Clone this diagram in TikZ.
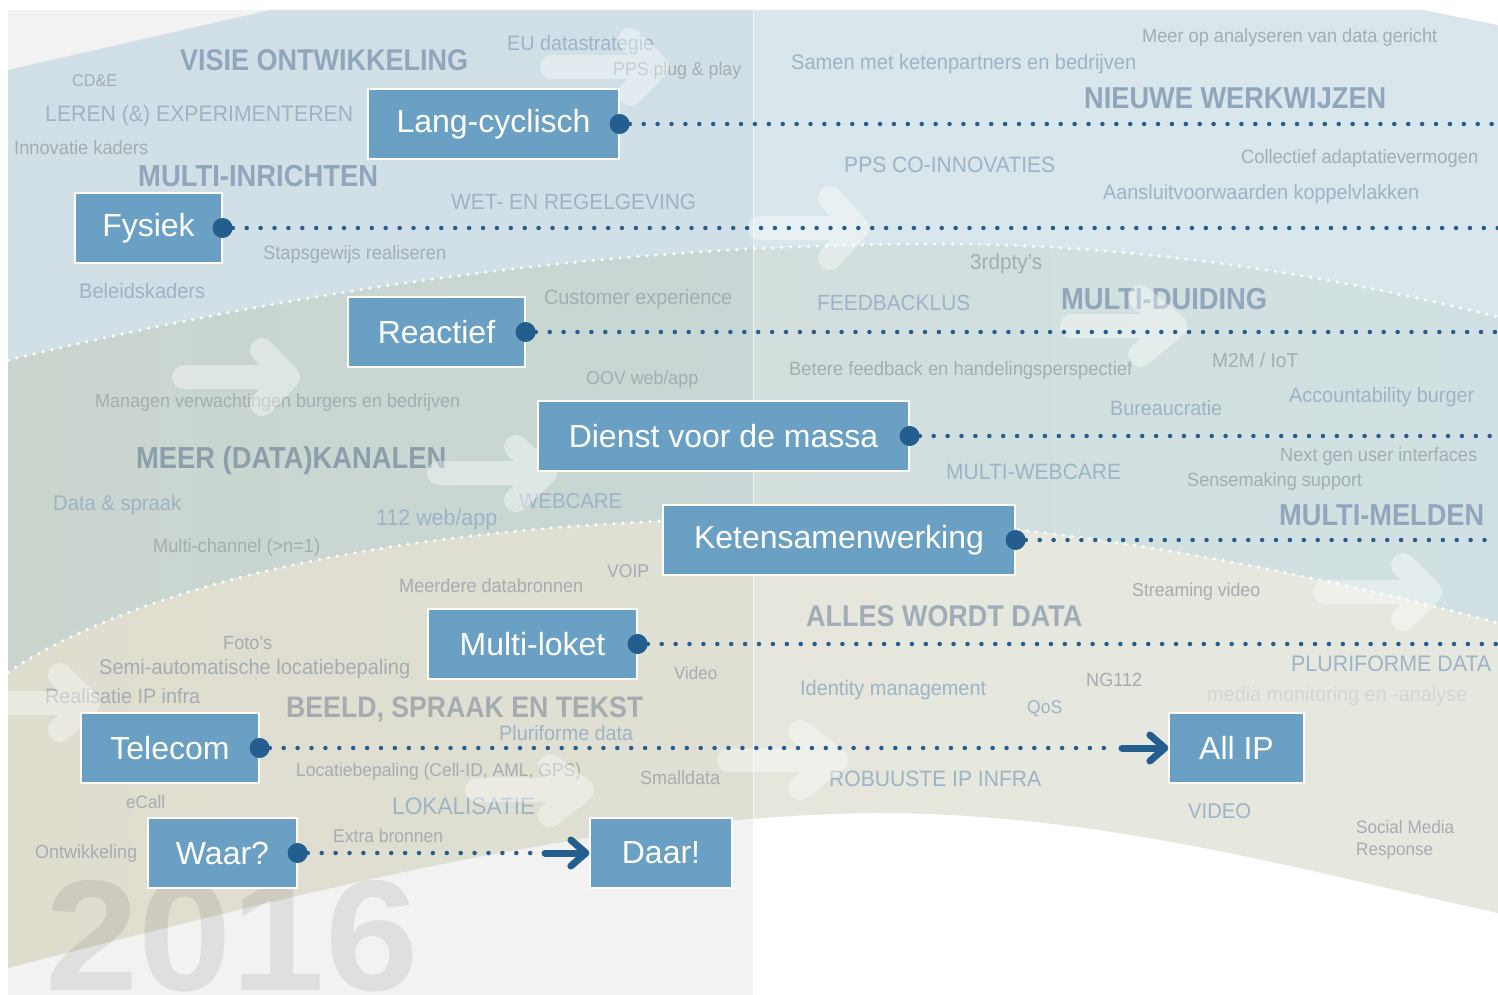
\documentclass[tikz,border=0pt]{standalone}
\usepackage{fontspec}
\usepackage{graphicx}
\setmainfont{Liberation Sans}
\newfontface\bgreg{Liberation Sans}[FakeStretch=0.95]
\newfontface\bgbold{Liberation Sans Bold}[FakeStretch=0.9]
\usetikzlibrary{arrows.meta}
\definecolor{panel}{HTML}{F2F2F2}
\definecolor{bandblue}{HTML}{D0E0E6}
\definecolor{gleft}{HTML}{CAD5CE}
\definecolor{gmid}{HTML}{C9D6D0}
\definecolor{gright}{HTML}{C6DADC}
\definecolor{beleft}{HTML}{DFDDCE}
\definecolor{beright}{HTML}{E0E3D9}
\definecolor{boxblue}{HTML}{6AA0C4}
\definecolor{dotblue}{HTML}{235E8E}
\definecolor{txgray}{HTML}{A4ADB1}
\definecolor{txblue}{HTML}{9DB4C7}
\definecolor{hdblue}{HTML}{8FA6BC}
\definecolor{hdgray}{HTML}{A6ABB0}
\definecolor{hdmid}{HTML}{8C9EAA}
\definecolor{hdlight}{HTML}{A0ACB8}
\definecolor{faint}{HTML}{D3D7D4}
\newcommand\tx[6]{\node[#1] (#2) at (#3,#4) {\resizebox{#5pt}{!}{#6}};}
\tikzset{
  bx/.style={rectangle, fill=boxblue, draw=white, line width=1.2pt, text=white,
    font=\fontsize{32}{36}\selectfont, minimum height=70pt, inner sep=0pt},
  bigdot/.style={circle, fill=dotblue, minimum size=20pt, inner sep=0pt},
  dotl/.style={dotblue, line width=4.5pt, line cap=round, dash pattern=on 0pt off 13.9pt},
  wdot/.style={white, line width=3.5pt, line cap=round, dash pattern=on 0pt off 9pt},
  arr/.style={dotblue, line width=7pt, line cap=round, -{Straight Barb[round, length=15pt, width=26pt]}},
  warr/.style={white, opacity=0.4, line width=24pt, line cap=round, line join=round},
  gt/.style={anchor=west, inner sep=0pt, text=txgray, font=\bgreg},
  bt/.style={anchor=west, inner sep=0pt, text=txblue, font=\bgreg},
  hd/.style={anchor=west, inner sep=0pt, text=hdblue, font=\bgbold},
}
\begin{document}
\begin{tikzpicture}[x=1pt,y=-1pt]
\useasboundingbox (0,0) rectangle (1498,995);
\fill[white] (0,0) rectangle (1498,995);
\fill[panel] (8,10) rectangle (753,995);
% bands
\fill[bandblue] (8,70) -- (270,10) -- (1423,10) -- (1498,25) -- (1498,317)
  .. controls (1350,280) and (1150,243) .. (930,244)
  .. controls (600,245) and (300,290) .. (8,360) -- cycle;
\shade[left color=gleft, middle color=gmid, right color=gright]
  (8,360) .. controls (300,290) and (600,245) .. (930,244)
  .. controls (1150,243) and (1350,280) .. (1498,317) -- (1498,623)
  .. controls (1300,570) and (1050,521) .. (840,518)
  .. controls (500,515) and (180,560) .. (8,672) -- cycle;
\shade[left color=beleft, right color=beright]
  (8,672) .. controls (180,560) and (500,515) .. (840,518)
  .. controls (1050,521) and (1300,570) .. (1498,623) -- (1498,913)
  .. controls (1300,870) and (1100,812) .. (870,813)
  .. controls (600,818) and (350,880) .. (8,968) -- cycle;
\fill[white, opacity=0.2] (754,0) rectangle (1498,995);
\draw[white, opacity=0.7, line width=1.5pt] (753.5,10) -- (753.5,995);
% white dotted band borders
\draw[wdot] (8,360) .. controls (300,290) and (600,245) .. (930,244)
  .. controls (1150,243) and (1350,280) .. (1498,317);
\draw[wdot] (8,672) .. controls (180,560) and (500,515) .. (840,518)
  .. controls (1050,521) and (1300,570) .. (1498,623);
% year
\node[anchor=south west, inner sep=0pt, text=black, text opacity=0.08, font=\bfseries] (yr) at (45,992) {\resizebox{373pt}{110pt}{2016}};
% texts
\tx{hd}{h1}{180}{60.5}{288}{VISIE ONTWIKKELING}
\tx{hd}{h2}{138}{176}{240}{MULTI-INRICHTEN}
\tx{hd}{h3}{1084}{98}{302}{NIEUWE WERKWIJZEN}
\tx{hd}{h4}{1061}{299}{206}{MULTI-DUIDING}
\tx{hd, text=hdmid}{h5}{136}{461}{310}{MEER (DATA)KANALEN}
\tx{hd}{h6}{1279}{515}{205}{MULTI-MELDEN}
\tx{hd, text=hdlight}{h7}{806}{616}{276}{ALLES WORDT DATA}
\tx{hd, text=hdgray}{h8}{286}{709}{357}{BEELD, SPRAAK EN TEKST}
\tx{bt}{b1}{45}{116}{308}{LEREN (\&) EXPERIMENTEREN}
\tx{bt}{b2}{507}{45}{147}{EU datastrategie}
\tx{bt}{b3}{451}{202}{245}{WET- EN REGELGEVING}
\tx{bt}{b4}{79}{291}{126}{Beleidskaders}
\tx{bt}{b5}{791}{64}{345}{Samen met ketenpartners en bedrijven}
\tx{bt}{b6}{844}{165}{211}{PPS CO-INNOVATIES}
\tx{bt}{b7}{1103}{194}{316}{Aansluitvoorwaarden koppelvlakken}
\tx{bt}{b8}{817}{303}{153}{FEEDBACKLUS}
\tx{bt}{b9}{53}{505}{128}{Data \& spraak}
\tx{bt}{b10}{376}{520}{121}{112 web/app}
\tx{bt}{b11}{519}{501}{103}{WEBCARE}
\tx{bt}{b12}{946}{472}{175}{MULTI-WEBCARE}
\tx{bt}{b13}{1289}{397}{185}{Accountability burger}
\tx{bt}{b14}{1110}{408}{112}{Bureaucratie}
\tx{bt}{b15}{1291}{664}{200}{PLURIFORME DATA}
\tx{bt}{b16}{800}{690}{186}{Identity management}
\tx{bt}{b17}{1027}{709}{35}{QoS}
\tx{bt}{b18}{829}{779}{212}{ROBUUSTE IP INFRA}
\tx{bt}{b19}{1188}{811}{63}{VIDEO}
\tx{bt}{b20}{392}{806}{143}{LOKALISATIE}
\tx{bt}{b21}{499}{733}{134}{Pluriforme data}
\tx{gt}{g1}{72}{81}{45}{CD\&E}
\tx{gt}{g2}{14}{148}{134}{Innovatie kaders}
\tx{gt}{g3}{613}{71}{128}{PPS plug \& play}
\tx{gt}{g4}{263}{255}{183}{Stapsgewijs realiseren}
\tx{gt}{g5}{544}{299}{188}{Customer experience}
\tx{gt}{g6}{1142}{38}{295}{Meer op analyseren van data gericht}
\tx{gt}{g7}{1241}{159}{237}{Collectief adaptatievermogen}
\tx{gt}{g8}{970}{264}{72}{3rdpty’s}
\tx{gt}{g9}{586}{380}{112}{OOV web/app}
\tx{gt}{g10}{95}{403}{365}{Managen verwachtingen burgers en bedrijven}
\tx{gt}{g11}{789}{370}{343}{Betere feedback en handelingsperspectief}
\tx{gt}{g12}{1212}{360}{86}{M2M / IoT}
\tx{gt}{g13}{153}{548}{167}{Multi-channel (>n=1)}
\tx{gt}{g14}{1280}{457}{197}{Next gen user interfaces}
\tx{gt}{g15}{1187}{482}{175}{Sensemaking support}
\tx{gt}{g16}{607}{571}{42}{VOIP}
\tx{gt}{g17}{399}{586}{184}{Meerdere databronnen}
\tx{gt}{g18}{223}{643}{49}{Foto’s}
\tx{gt}{g19}{99}{669}{311}{Semi-automatische locatiebepaling}
\tx{gt}{g20}{45}{696}{155}{Realisatie IP infra}
\tx{gt}{g21}{674}{673}{43}{Video}
\tx{gt}{g22}{296}{772}{285}{Locatiebepaling (Cell-ID, AML, GPS)}
\tx{gt}{g23}{640}{778}{80}{Smalldata}
\tx{gt}{g24}{126}{802}{39}{eCall}
\tx{gt}{g25}{333}{836}{110}{Extra bronnen}
\tx{gt}{g26}{35}{854}{102}{Ontwikkeling}
\tx{gt}{g27}{1132}{592}{128}{Streaming video}
\tx{gt}{g28}{1086}{680}{56}{NG112}
\tx{gt, text=faint}{g29}{1207}{696}{260}{media monitoring en -analyse}
\node[gt, align=left, font=\bgreg\fontsize{18}{22.5}\selectfont] (g30) at (1356,840) {Social Media\\Response};
% white translucent arrows
\begin{scope}
\clip (8,10) rectangle (1498,995);
\draw[warr] (552,67) -- (650,67) (630,40) -- (657,67) -- (630,94);
\draw[warr] (760,228) -- (852,228) (830,198) -- (857,228) -- (830,258);
\draw[warr] (1072,326) -- (1170,326) (1140,297) -- (1175,326) -- (1140,355);
\draw[warr] (184,377) -- (283,377) (262,350) -- (288,377) -- (262,404);
\draw[warr] (439,473) -- (540,473) (516,447) -- (545,473) -- (516,500);
\draw[warr] (1325,592) -- (1425,592) (1403,565) -- (1430,592) -- (1403,619);
\draw[warr] (8,703) -- (84,703) (60,675) -- (88,703) -- (60,730);
\draw[warr] (477,790) -- (578,790) (550,766) -- (582,790) -- (550,815);
\draw[warr] (729,760) -- (831,760) (800,732) -- (836,760) -- (800,788);
\end{scope}
% boxes
\node[bx, minimum width=251pt] (lang) at (493.5,124) {Lang-cyclisch};
\node[bx, minimum width=147pt] (fys) at (148.5,228) {Fysiek};
\node[bx, minimum width=177pt] (reac) at (436.5,332) {Reactief};
\node[bx, minimum width=371pt] (dienst) at (723.5,436) {Dienst voor de massa};
\node[bx, minimum width=352pt] (keten) at (839,540) {Ketensamenwerking};
\node[bx, minimum width=209pt] (mloket) at (532.5,644) {Multi-loket};
\node[bx, minimum width=178pt] (tel) at (170,748) {Telecom};
\node[bx, minimum width=135pt] (allip) at (1236.5,748) {All IP};
\node[bx, minimum width=149pt] (waar) at (222.5,853) {Waar?};
\node[bx, minimum width=142pt] (daar) at (661,853) {Daar!};
% end coordinates
\coordinate (e1) at (1498,124);
\coordinate (e2) at (1498,228);
\coordinate (e3) at (1498,332);
\coordinate (e4) at (1498,436);
\coordinate (e5) at (1498,540);
\coordinate (e6) at (1498,644);
\coordinate (a7) at (1108,748);
\coordinate (b7) at (1122,748);
\coordinate (a9) at (531,853);
\coordinate (b9) at (545,853);
% dots
\node[bigdot] (d1) at (lang.east) {};
\node[bigdot] (d2) at (fys.east) {};
\node[bigdot] (d3) at (reac.east) {};
\node[bigdot] (d4) at (dienst.east) {};
\node[bigdot] (d5) at (keten.east) {};
\node[bigdot] (d6) at (mloket.east) {};
\node[bigdot] (d7) at (tel.east) {};
\node[bigdot] (d9) at (waar.east) {};
% connectors
\draw[dotl] (d1.east) -- (e1);
\draw[dotl] (d2.east) -- (e2);
\draw[dotl] (d3.east) -- (e3);
\draw[dotl] (d4.east) -- (e4);
\draw[dotl] (d5.east) -- (e5);
\draw[dotl] (d6.east) -- (e6);
\draw[dotl] (d7.east) -- (a7);
\draw[dotl] (d9.east) -- (a9);
\draw[arr] (b7) -- (allip.west);
\draw[arr] (b9) -- (daar.west);
\end{tikzpicture}
\end{document}
